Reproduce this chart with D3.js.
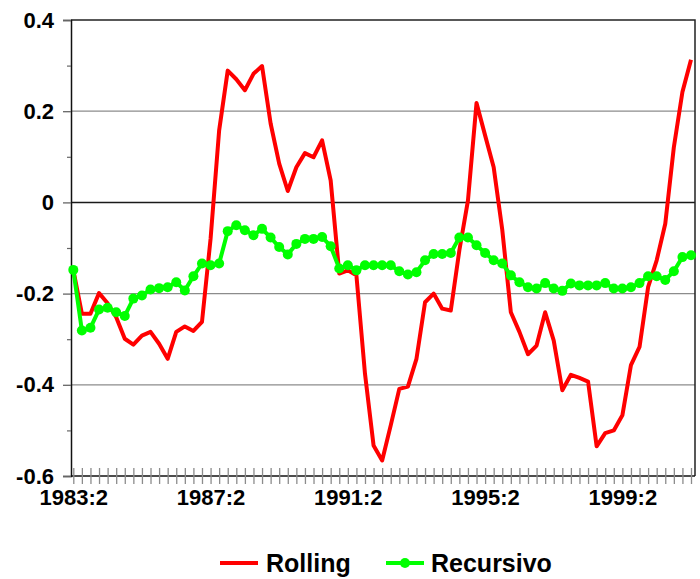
<!DOCTYPE html>
<html>
<head>
<meta charset="utf-8">
<script src="https://cdn.jsdelivr.net/npm/d3@7"></script>
<style>
  body { margin: 0; background: #fff; }
  svg { display: block; font-family: "Liberation Sans", Arial, sans-serif; font-weight: bold; }
</style>
</head>
<body>
<div id="chart"></div>
<script>
// quarters 1983:2 .. 2001:2
const startYear = 1983, startQ = 2, nQuarters = 73;
const quarters = [];
for (let k = 0; k < nQuarters; k++) {
  const q = startQ - 1 + k;
  quarters.push((startYear + Math.floor(q / 4)) + ":" + (q % 4 + 1));
}

const xTickLabels = ["1983:2", "1987:2", "1991:2", "1995:2", "1999:2"];
const yTicks = [-0.6, -0.4, -0.2, 0, 0.2, 0.4];
const yMinorTicks = [-0.5, -0.3, -0.1, 0.1, 0.3];

const rolling = [
  -0.148, -0.244, -0.244, -0.199, -0.221, -0.252, -0.299, -0.312, -0.292, -0.284,
  -0.310, -0.343, -0.284, -0.272, -0.282, -0.262, -0.080, 0.158, 0.289, 0.270,
  0.246, 0.282, 0.299, 0.173, 0.085, 0.025, 0.077, 0.108, 0.099, 0.136,
  0.048, -0.156, -0.149, -0.160, -0.376, -0.533, -0.566, -0.489, -0.409, -0.404,
  -0.343, -0.219, -0.200, -0.233, -0.237, -0.105, 0.004, 0.218, 0.147, 0.077,
  -0.060, -0.241, -0.284, -0.333, -0.314, -0.241, -0.303, -0.412, -0.378, -0.385,
  -0.393, -0.535, -0.506, -0.500, -0.467, -0.357, -0.317, -0.186, -0.127, -0.047,
  0.121, 0.242, 0.313
];

const recursivo = [
  -0.148, -0.281, -0.275, -0.235, -0.231, -0.241, -0.249, -0.211, -0.204, -0.191,
  -0.188, -0.186, -0.175, -0.193, -0.162, -0.134, -0.138, -0.134, -0.063, -0.050,
  -0.061, -0.072, -0.058, -0.077, -0.098, -0.114, -0.091, -0.080, -0.080, -0.076,
  -0.096, -0.145, -0.138, -0.149, -0.138, -0.138, -0.138, -0.138, -0.151, -0.158,
  -0.153, -0.127, -0.113, -0.113, -0.111, -0.077, -0.077, -0.094, -0.111, -0.127,
  -0.134, -0.160, -0.175, -0.186, -0.189, -0.177, -0.189, -0.194, -0.178, -0.182,
  -0.182, -0.182, -0.177, -0.189, -0.189, -0.186, -0.177, -0.162, -0.162, -0.170,
  -0.151, -0.120, -0.116
];

const width = 700, height = 579;
const plot = {left: 71, right: 695, top: 20, bottom: 476};

const svg = d3.select("#chart")
  .append("svg")
  .attr("width", width)
  .attr("height", height);

const x = d3.scalePoint()
  .domain(quarters)
  .range([73.3, 691]);

const y = d3.scaleLinear()
  .domain([-0.6, 0.4])
  .range([plot.bottom, plot.top]);

const fmt = d => d === 0 ? "0" : d3.format(".1f")(d).replace("\u2212", "-");

// gridlines
svg.append("g")
  .selectAll("line")
  .data(yTicks.filter(d => d !== 0 && d !== -0.6 && d !== 0.4))
  .enter()
  .append("line")
  .attr("x1", plot.left)
  .attr("x2", plot.right)
  .attr("y1", d => y(d))
  .attr("y2", d => y(d))
  .attr("stroke", "#8c8c8c")
  .attr("stroke-width", 1.3);

// zero line + top/right border
svg.append("line")
  .attr("x1", plot.left).attr("x2", plot.right)
  .attr("y1", y(0)).attr("y2", y(0))
  .attr("stroke", "#1a1a1a").attr("stroke-width", 1.5);

svg.append("path")
  .attr("d", `M${plot.left},${y(0.4)}H${plot.right}V${plot.bottom}`)
  .attr("fill", "none")
  .attr("stroke", "#222")
  .attr("stroke-width", 1.5);

// y axis
const yAxis = svg.append("g")
  .attr("transform", `translate(${plot.left},0)`)
  .call(d3.axisLeft(y).tickValues(yTicks).tickFormat(fmt).tickSize(8).tickPadding(9));
yAxis.select(".domain").attr("stroke", "#111").attr("stroke-width", 1.5);
yAxis.selectAll(".tick line").attr("stroke", "#666").attr("stroke-width", 1.3);
yAxis.selectAll("text")
  .attr("font-size", "22px")
  .attr("font-weight", "bold")
  .attr("fill", "#000")
  .attr("font-family", "'Liberation Sans', Arial, sans-serif");

svg.append("g")
  .attr("transform", `translate(${plot.left},0)`)
  .call(d3.axisLeft(y).tickValues(yMinorTicks).tickFormat("").tickSize(4))
  .call(g => g.select(".domain").remove())
  .selectAll("line").attr("stroke", "#666").attr("stroke-width", 1.2);

// x axis: a tick every quarter, crossing the axis line
const xAxis = svg.append("g")
  .attr("transform", `translate(0,${plot.bottom})`)
  .call(d3.axisBottom(x).tickFormat("").tickSize(8).tickSizeOuter(0));
xAxis.select(".domain")
  .attr("d", `M${plot.left},0H${plot.right}`)
  .attr("stroke", "#111").attr("stroke-width", 1.5);
xAxis.selectAll(".tick line")
  .attr("y1", -8)
  .attr("stroke", "#8c8c8c")
  .attr("stroke-width", 1.3);

svg.append("g")
  .attr("transform", `translate(0,${plot.bottom})`)
  .call(d3.axisBottom(x).tickValues(xTickLabels).tickSize(0).tickPadding(13))
  .call(g => g.select(".domain").remove())
  .selectAll("text")
  .attr("font-size", "22px")
  .attr("font-weight", "bold")
  .attr("fill", "#000")
  .attr("font-family", "'Liberation Sans', Arial, sans-serif");

// series: Rolling first, Recursivo drawn on top
const line = d3.line()
  .x((d, i) => x(quarters[i]))
  .y(d => y(d));

svg.append("path")
  .datum(rolling)
  .attr("fill", "none")
  .attr("stroke", "#ff0000")
  .attr("stroke-width", 4)
  .attr("stroke-linejoin", "round")
  .attr("d", line);

svg.append("path")
  .datum(recursivo)
  .attr("fill", "none")
  .attr("stroke", "#00ff00")
  .attr("stroke-width", 4)
  .attr("stroke-linejoin", "round")
  .attr("d", line);

svg.selectAll(".dot")
  .data(recursivo)
  .enter()
  .append("circle")
  .attr("class", "dot")
  .attr("cx", (d, i) => x(quarters[i]))
  .attr("cy", d => y(d))
  .attr("r", 5)
  .attr("fill", "#00ff00");

// legend
const legend = svg.append("g").attr("transform", "translate(0,563)");
legend.append("line")
  .attr("x1", 220).attr("x2", 258)
  .attr("stroke", "#ff0000").attr("stroke-width", 4);
legend.append("text")
  .attr("x", 266).attr("y", 0).attr("dy", "0.35em")
  .attr("font-size", "25px")
  .text("Rolling");
legend.append("line")
  .attr("x1", 386).attr("x2", 424)
  .attr("stroke", "#00ff00").attr("stroke-width", 4);
legend.append("circle")
  .attr("cx", 405).attr("cy", 0).attr("r", 5)
  .attr("fill", "#00ff00");
legend.append("text")
  .attr("x", 431).attr("y", 0).attr("dy", "0.35em")
  .attr("font-size", "25px")
  .text("Recursivo");
</script>
</body>
</html>
